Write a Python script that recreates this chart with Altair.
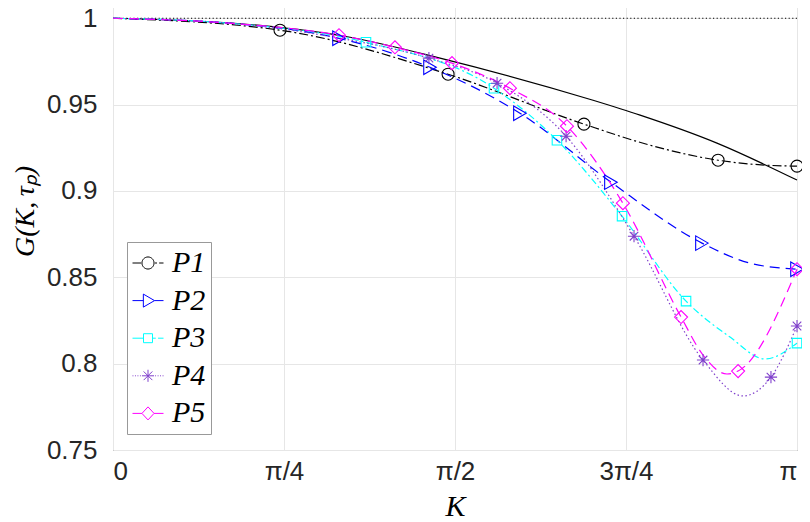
import math
import pandas as pd
import altair as alt

SERIES = ["P1", "P2", "P3", "P4", "P5"]
COLORS = ["#000000", "#0000ff", "#00ffff", "#8040cc", "#ff00ff"]
DASHES = [[9, 3, 2, 3], [10, 6], [7, 3, 2, 3], [1.5, 2.5], [10, 6]]

ASTERISK = "M-1,0L1,0M0,-1L0,1M-0.7,-0.7L0.7,0.7M-0.7,0.7L0.7,-0.7"
SHAPES = ["circle", "triangle-right", "square", ASTERISK, "diamond"]
SIZES = [144, 210, 90, 150, 170]

# theory curve (solid black)
TH_K = [0.0, 0.675, 1.089, 1.502, 2.205, 2.421, 2.774, 3.1416]
TH_G = [1.0, 0.9959, 0.9890, 0.9769, 0.9525, 0.9439, 0.9277, 0.9063]

# reference level (dotted)
ONE_LEVEL = [1.0]

P1_K = [0.0, 0.767, 1.539, 2.163, 2.467, 2.779, 3.004, 3.1416]
P1_G = [1.0, 0.9931, 0.9676, 0.9387, 0.9265, 0.9178, 0.9149, 0.9144]
P1_M = [0, 1, 1, 1, 0, 1, 0, 1]

P2_K = [0.0, 0.55, 1.038, 1.456, 1.869, 2.287, 2.705, 2.926, 3.1416]
P2_G = [1.0, 0.997, 0.9884, 0.9716, 0.9450, 0.9051, 0.8698, 0.8582, 0.8547]
P2_M = [0, 0, 1, 1, 1, 1, 1, 0, 1]

P3_K = [0.0, 0.55, 1.162, 1.750, 2.039, 2.338, 2.632, 2.834, 2.995, 3.1416]
P3_G = [1.0, 0.997, 0.9861, 0.9595, 0.9294, 0.8854, 0.8362, 0.8154, 0.8027, 0.8119]
P3_M = [0, 0, 1, 1, 1, 1, 1, 0, 0, 1]

P4_K = [0.0, 0.55, 1.04, 1.451, 1.764, 2.081, 2.393, 2.710, 2.894, 3.022, 3.1416]
P4_G = [1.0, 0.997, 0.9885, 0.9769, 0.9624, 0.9317, 0.8738, 0.8021, 0.7813, 0.7922, 0.8218]
P4_M = [0, 0, 0, 1, 1, 1, 1, 1, 0, 1, 1]

P5_K = [0.0, 0.55, 1.038, 1.295, 1.557, 1.823, 2.085, 2.342, 2.609, 2.710, 2.820, 2.871, 3.1416]
P5_G = [1.0, 0.997, 0.9902, 0.9832, 0.9740, 0.9595, 0.9375, 0.8929, 0.8270, 0.8050, 0.7940, 0.7957, 0.8547]
P5_M = [0, 0, 1, 1, 1, 1, 1, 1, 1, 0, 0, 1, 1]

XTICK_VALUES = [0, math.pi / 4, math.pi / 2, 3 * math.pi / 4, math.pi]
XTICK_LABELS = ["0", "π/4", "π/2", "3π/4", "π"]
YTICK_VALUES = [0.75, 0.8, 0.85, 0.9, 0.95, 1.0]

# legend glyphs: short line segment + marker
LEG_PATHS = [
    "M-1,0L-0.45,0M0.45,0L0.58,0M0.72,0L1,0M-0.39,0A0.39,0.39,0,1,1,0.39,0A0.39,0.39,0,1,1,-0.39,0Z",
    "M-1,0L-0.3,0M0.42,0L1,0M-0.3,-0.42L0.42,0L-0.3,0.42Z",
    "M-1,0L-0.29,0M0.29,0L0.5,0M0.65,0L1,0M-0.29,-0.29L0.29,-0.29L0.29,0.29L-0.29,0.29Z",
    "M-1,0L-0.94,0M-0.84,0L-0.78,0M-0.68,0L-0.62,0M-0.52,0L-0.46,0"
    "M0.46,0L0.52,0M0.62,0L0.68,0M0.78,0L0.84,0M0.94,0L1,0"
    "M-0.39,0L0.39,0M0,-0.39L0,0.39M-0.28,-0.28L0.28,0.28M-0.28,0.28L0.28,-0.28",
    "M-1,0L-0.39,0M0.39,0L1,0M0,-0.42L0.39,0L0,0.42L-0.39,0Z",
]

series_data = [("P1", P1_K, P1_G, P1_M), ("P2", P2_K, P2_G, P2_M),
               ("P3", P3_K, P3_G, P3_M), ("P4", P4_K, P4_G, P4_M),
               ("P5", P5_K, P5_G, P5_M)]
rows = []
for name, ks, gs, ms in series_data:
    for k, g, m in zip(ks, gs, ms):
        rows.append({"series": name, "K": k, "G": g, "marker": m})
df = pd.DataFrame(rows)
th = pd.DataFrame({"K": TH_K, "G": TH_G})
one = pd.DataFrame({"G": ONE_LEVEL})

xscale = alt.Scale(domain=[0, math.pi], nice=False, zero=False)
yscale = alt.Scale(domain=[0.75, 1.01], nice=False, zero=False)

label_arr = "[" + ",".join("'%s'" % s for s in XTICK_LABELS) + "]"
xaxis = alt.Axis(values=XTICK_VALUES, labelExpr=label_arr + "[round(datum.index*4)]",
                 title="K", titleFont="Liberation Serif", titleFontStyle="italic",
                 titleFontWeight="normal", titleFontSize=30, titleY=65,
                 titleBaseline="alphabetic", labelPadding=8)
yaxis = alt.Axis(values=YTICK_VALUES, format="~g", title="G(K,\u2009τₚ)",
                 titleFont="Liberation Serif", titleFontStyle="italic",
                 titleFontWeight="normal", titleFontSize=28, titleX=-80, titleY=210,
                 titleAngle=270, titleBaseline="alphabetic", titleAlign="center",
                 labelPadding=16)

color_scale = alt.Scale(domain=SERIES, range=COLORS)

legend = alt.Legend(
    title=None, orient="none", legendX=14, legendY=241, padding=5,
    fillColor="white", strokeColor="#999999", symbolSize=961,
    labelFont="Liberation Serif", labelFontStyle="italic", labelFontSize=30,
    labelOffset=8, rowPadding=6.6, symbolStrokeWidth=1, labelColor="black",
    symbolOpacity=1, symbolFillColor="transparent",
)

X = alt.X("K:Q", scale=xscale, axis=xaxis)
Y = alt.Y("G:Q", scale=yscale, axis=yaxis)

ref = alt.Chart(one).mark_rule(color="black", strokeDash=[1.2, 2.4], strokeWidth=1.2).encode(y=Y)

theory = alt.Chart(th).mark_line(color="black", strokeWidth=1.2, interpolate="monotone").encode(x=X, y=Y)

line_layers = []
point_layers = []
for i, s in enumerate(SERIES):
    line_layers.append(
        alt.Chart(df).transform_filter("datum.series == '%s'" % s)
        .mark_line(strokeWidth=1.2, interpolate="monotone", color=COLORS[i], strokeDash=DASHES[i])
        .encode(x=X, y=Y))
    point_layers.append(
        alt.Chart(df).transform_filter("datum.marker == 1 && datum.series == '%s'" % s)
        .mark_point(filled=False, strokeWidth=1.1, opacity=1, shape=SHAPES[i],
                    size=SIZES[i], color=COLORS[i])
        .encode(x=X, y=Y))

# legend-only layer: invisible marks, visible legend symbols
legend_layer = alt.Chart(df).transform_filter("datum.marker == 1").mark_point(
    filled=False, strokeWidth=1, opacity=0, size=961).encode(
    x=X, y=Y,
    color=alt.Color("series:N", scale=color_scale, legend=legend),
    shape=alt.Shape("series:N", scale=alt.Scale(domain=SERIES, range=LEG_PATHS), legend=legend))

chart = alt.layer(ref, theory, *line_layers, *point_layers, legend_layer).properties(
    width=684, height=449,
    autosize=alt.AutoSizeParams(type="none"),
    padding={"left": 105, "top": -7, "right": 5, "bottom": 72},
).configure_axis(
    grid=True, gridColor="#e6e6e6", gridWidth=1, domain=False, ticks=False, tickSize=0,
    labelFont="Liberation Sans", labelFontSize=26, labelColor="#262626",
    titleColor="black",
).configure_view(stroke="#555555", strokeWidth=1)

chart.save("out.html", embed_options={"renderer": "svg", "actions": False})
